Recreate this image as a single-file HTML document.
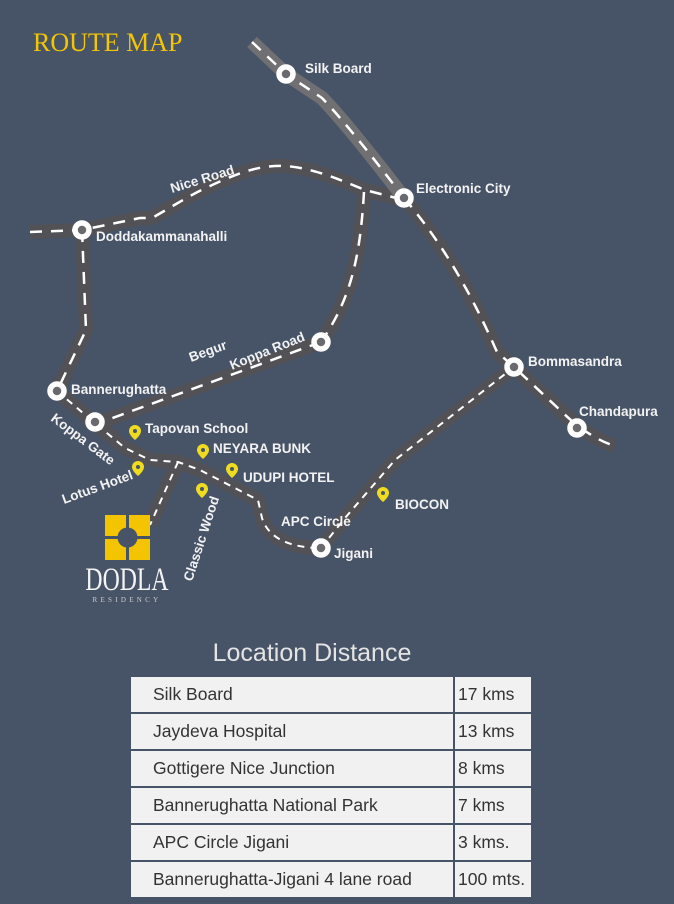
<!DOCTYPE html>
<html><head><meta charset="utf-8"><style>
html,body{margin:0;padding:0;background:#475467;width:674px;height:904px;overflow:hidden}
svg{position:absolute;left:0;top:0}
.t{font-family:"Liberation Sans",sans-serif;font-weight:bold;fill:#f2f2f2;font-size:13.5px}
table{position:absolute;left:129px;top:675px;border-collapse:separate;border-spacing:2px 2px;background:#475467;table-layout:fixed}
td{background:#f1f1f1;font-family:"Liberation Sans",sans-serif;font-size:17.5px;color:#333;height:35px;padding:0 0 0 22px;box-sizing:border-box;white-space:nowrap;overflow:hidden}
td.d{padding-left:3px;width:76px}
</style></head><body>
<svg width="674" height="904" viewBox="0 0 674 904">
<g fill="none" stroke-linecap="butt" stroke-linejoin="round">
<g stroke="#525256" stroke-width="14">
<path d="M30,232 L82,230 L140,218 L152,218 C175,205 190,195 210,186 C240,172 260,165 285,166 C315,168 345,182 365,190 L404,200"/>
<path d="M364,192 C360,260 350,300 321,342"/>
<path d="M321,342 L250,368 L96,424"/>
<path d="M82,230 L86,330 L57,391"/>
<path d="M57,391 L96,424 L125,448 L150,460 L178,462 L200,470 L258,500 L262,518 C268,538 290,548 321,548"/>
<path d="M321,548 L345,518 L395,460 L514,367"/>
<path d="M178,462 L150,525"/>
<path d="M404,198 C440,240 470,290 497,352 L514,367 L560,410 C575,425 595,440 615,446"/>
</g>
<g stroke="#707073" stroke-width="14">
<path d="M252,42 L286,74 L322,98 C345,122 375,160 404,198"/>
</g>
<g stroke="#fff" stroke-width="2.5" stroke-dasharray="12,9">
<path d="M30,232 L82,230 L140,218 L152,218 C175,205 190,195 210,186 C240,172 260,165 285,166 C315,168 345,182 365,190 L404,200"/>
<path d="M364,192 C360,260 350,300 321,342"/>
<path d="M321,342 L250,368 L96,424"/>
<path d="M82,230 L86,330 L57,391"/>
<path d="M252,42 L286,74 L322,98 C345,122 375,160 404,198"/>
<path d="M404,198 C440,240 470,290 497,352 L514,367 L560,410 C575,425 595,440 615,446"/>
</g>
<g stroke="#fff" stroke-width="2" stroke-dasharray="7,6">
<path d="M57,391 L96,424 L125,448 L150,460 L178,462 L200,470 L258,500 L262,518 C268,538 290,548 321,548"/>
<path d="M321,548 L345,518 L395,460 L514,367"/>
<path d="M178,462 L150,525"/>
</g>
</g>
<g fill="#6a6a6e" stroke="#fff" stroke-width="5.5">
<circle cx="286" cy="74" r="7"/><circle cx="404" cy="198" r="7"/><circle cx="82" cy="230" r="7"/>
<circle cx="321" cy="342" r="7"/><circle cx="57" cy="391" r="7"/><circle cx="95" cy="422" r="7"/>
<circle cx="514" cy="367" r="7"/><circle cx="577" cy="428" r="7"/><circle cx="321" cy="548" r="7"/>
</g>
<g fill="#f0dc1e">
<g transform="translate(135,432)"><path d="M0,-7 a6,6 0 0 1 6,6 c0,4 -6,9 -6,9 c0,0 -6,-5 -6,-9 a6,6 0 0 1 6,-6z"/><circle cy="-1" r="2" fill="#475467"/></g>
<g transform="translate(203,451)"><path d="M0,-7 a6,6 0 0 1 6,6 c0,4 -6,9 -6,9 c0,0 -6,-5 -6,-9 a6,6 0 0 1 6,-6z"/><circle cy="-1" r="2" fill="#475467"/></g>
<g transform="translate(232,470)"><path d="M0,-7 a6,6 0 0 1 6,6 c0,4 -6,9 -6,9 c0,0 -6,-5 -6,-9 a6,6 0 0 1 6,-6z"/><circle cy="-1" r="2" fill="#475467"/></g>
<g transform="translate(138,468)"><path d="M0,-7 a6,6 0 0 1 6,6 c0,4 -6,9 -6,9 c0,0 -6,-5 -6,-9 a6,6 0 0 1 6,-6z"/><circle cy="-1" r="2" fill="#475467"/></g>
<g transform="translate(202,490)"><path d="M0,-7 a6,6 0 0 1 6,6 c0,4 -6,9 -6,9 c0,0 -6,-5 -6,-9 a6,6 0 0 1 6,-6z"/><circle cy="-1" r="2" fill="#475467"/></g>
<g transform="translate(383,494)"><path d="M0,-7 a6,6 0 0 1 6,6 c0,4 -6,9 -6,9 c0,0 -6,-5 -6,-9 a6,6 0 0 1 6,-6z"/><circle cy="-1" r="2" fill="#475467"/></g>
</g>
<text x="33" y="51" font-family="Liberation Serif,serif" font-size="26" fill="#f3c600">ROUTE MAP</text>
<text class="t" x="305" y="73">Silk Board</text>
<text class="t" x="416" y="193">Electronic City</text>
<text class="t" x="96" y="241">Doddakammanahalli</text>
<text class="t" x="172" y="193" transform="rotate(-17 172 193)">Nice Road</text>
<text class="t" x="191" y="362" transform="rotate(-20 191 362)">Begur</text>
<text class="t" x="232" y="370" transform="rotate(-22 232 370)">Koppa Road</text>
<text class="t" x="71" y="394">Bannerughatta</text>
<text class="t" x="50" y="420" transform="rotate(37 50 420)">Koppa Gate</text>
<text class="t" x="145" y="433">Tapovan School</text>
<text class="t" x="213" y="453">NEYARA BUNK</text>
<text class="t" x="243" y="482">UDUPI HOTEL</text>
<text class="t" x="64" y="504" transform="rotate(-20 64 504)">Lotus Hotel</text>
<text class="t" x="192" y="582" transform="rotate(-72 192 582)">Classic Wood</text>
<text class="t" x="281" y="526">APC Circle</text>
<text class="t" x="334" y="558">Jigani</text>
<text class="t" x="395" y="509">BIOCON</text>
<text class="t" x="528" y="366">Bommasandra</text>
<text class="t" x="579" y="416">Chandapura</text>
<g fill="#f5c400">
<rect x="105" y="515" width="21" height="21"/><rect x="129" y="515" width="21" height="21"/>
<rect x="105" y="539" width="21" height="21"/><rect x="129" y="539" width="21" height="21"/>
</g>
<circle cx="127.5" cy="537.5" r="10" fill="#475467"/>
<text x="0" y="0" text-anchor="middle" font-family="Liberation Serif,serif" font-size="33" fill="#f4f4f4" transform="translate(127 590) scale(0.72 1)">DODLA</text>
<text x="127" y="602" text-anchor="middle" font-family="Liberation Serif,serif" font-size="7" fill="#ccc" letter-spacing="3.3">RESIDENCY</text>
<text x="312" y="661" text-anchor="middle" font-family="Liberation Sans,sans-serif" font-size="25" fill="#e4e4e4">Location Distance</text>
</svg>
<table>
<tr><td style="width:322px">Silk Board</td><td class="d">17 kms</td></tr>
<tr><td>Jaydeva Hospital</td><td class="d">13 kms</td></tr>
<tr><td>Gottigere Nice Junction</td><td class="d">8 kms</td></tr>
<tr><td>Bannerughatta National Park</td><td class="d">7 kms</td></tr>
<tr><td>APC Circle Jigani</td><td class="d">3 kms.</td></tr>
<tr><td>Bannerughatta-Jigani 4 lane road</td><td class="d">100 mts.</td></tr>
</table>
</body></html>
